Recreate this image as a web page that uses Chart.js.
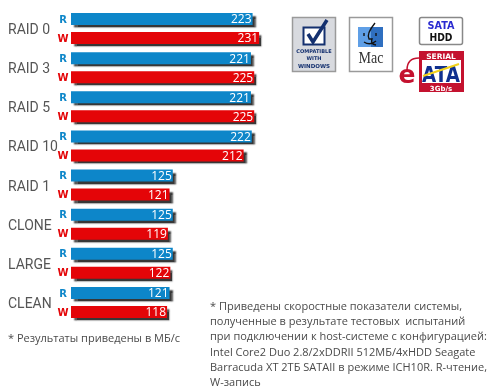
<!DOCTYPE html>
<html>
<head>
<meta charset="utf-8">
<title>RAID speed</title>
<script src="https://cdn.jsdelivr.net/npm/chart.js@4/dist/chart.umd.min.js"></script>
<style>
  html, body { margin: 0; padding: 0; background: #fff; }
  #wrap { position: relative; width: 495px; height: 390px; overflow: hidden; }
  #chart { position: absolute; left: 0; top: 0; }
  #logos { position: absolute; left: 0; top: 0; }
  .note { position: absolute; font-family: "Open Sans", sans-serif; font-size: 11px; color: #4a4a4a; white-space: nowrap; }
  #note-left { left: 8px; top: 330px; line-height: 16px; }
  #note-right { left: 210px; top: 298px; line-height: 15.2px; }
</style>
</head>
<body>
<div id="wrap">
  <canvas id="chart" width="495" height="390"></canvas>

  <svg id="logos" width="495" height="390" xmlns="http://www.w3.org/2000/svg">
    <!-- Windows -->
    <rect x="292.5" y="17.5" width="43" height="54" fill="#d8dadf" stroke="#9a9a9a" stroke-width="1.5"/>
    <rect x="303.5" y="27.5" width="21" height="17" fill="#fff" stroke="#14306f" stroke-width="2"/>
    <path d="M308 34 L313 42 L327 20" fill="none" stroke="#14306f" stroke-width="3.5"/>
    <text x="314" y="53" font-family="DejaVu Sans" font-weight="bold" font-size="5" fill="#14306f" text-anchor="middle">COMPATIBLE</text>
    <text x="314" y="60" font-family="DejaVu Sans" font-weight="bold" font-size="5" fill="#14306f" text-anchor="middle">WITH</text>
    <text x="314" y="68" font-family="DejaVu Sans" font-weight="bold" font-size="5.5" fill="#14306f" text-anchor="middle">WINDOWS</text>
    <!-- Mac -->
    <rect x="349.5" y="17.5" width="43" height="54" fill="#fff" stroke="#9a9a9a" stroke-width="1.5"/>
    <rect x="358" y="27" width="25" height="20" fill="#5f9fe6"/>
    <rect x="371" y="27" width="12" height="20" fill="#2f6fc0"/>
    <path d="M375 23 Q366 34 369 39 L372 39 Q370 44 376 45 M364 33 L364 36 M376 33 L376 36 M364 42 Q370 46 376 41" fill="none" stroke="#111" stroke-width="1.4"/>
    <text x="371" y="63" font-family="Liberation Serif" font-size="17" fill="#333" text-anchor="middle" textLength="25" lengthAdjust="spacingAndGlyphs">Mac</text>
    <!-- SATA HDD -->
    <rect x="419.5" y="17.5" width="43" height="27" rx="2" fill="#fff" stroke="#888" stroke-width="1.5"/>
    <text x="441" y="29" font-family="DejaVu Sans" font-weight="bold" font-size="10" fill="#2a2ad0" text-anchor="middle" textLength="27" lengthAdjust="spacingAndGlyphs">SATA</text>
    <text x="441" y="41" font-family="DejaVu Sans" font-weight="bold" font-size="10" fill="#111" text-anchor="middle" textLength="23" lengthAdjust="spacingAndGlyphs">HDD</text>
    <!-- eSATA -->
    <rect x="419" y="51" width="45" height="41" fill="#c4122f"/>
    <rect x="422" y="60" width="39" height="23" fill="#fff"/>
    <path d="M407 70 Q407 58 419 58" fill="none" stroke="#c4122f" stroke-width="1.5"/>
    <text x="441" y="59" font-family="DejaVu Sans" font-weight="bold" font-size="7.5" fill="#fff" text-anchor="middle">SERIAL</text>
    <text x="441" y="82" font-family="DejaVu Sans" font-weight="bold" font-size="21" fill="#10308f" text-anchor="middle" textLength="38" lengthAdjust="spacingAndGlyphs">ATA</text>
    <path d="M423 76 L459 64" fill="none" stroke="#f2d21a" stroke-width="2"/>
    <text x="441" y="91" font-family="DejaVu Sans" font-weight="bold" font-size="7" fill="#fff" text-anchor="middle">3Gb/s</text>
    <text x="407" y="83" font-family="DejaVu Sans" font-weight="bold" font-size="25" fill="#c4122f" text-anchor="middle">e</text>
  </svg>

  <div class="note" id="note-left">* Результаты приведены в МБ/с</div>
  <div class="note" id="note-right">* Приведены скоростные показатели системы,<br>полученные в результате тестовых&nbsp; испытаний<br>при подключении к host-системе с конфигурацией:<br>Intel Core2 Duo 2.8/2xDDRII 512МБ/4xHDD Seagate<br>Barracuda XT 2ТБ SATAII в режиме ICH10R. R-чтение,<br>W-запись</div>
</div>

<script>
// ------------------------------------------------------------
//  Data
// ------------------------------------------------------------
var MODES = ['RAID 0', 'RAID 3', 'RAID 5', 'RAID 10', 'RAID 1', 'CLONE', 'LARGE', 'CLEAN'];
var READ_SPEED = [223, 221, 221, 222, 125, 125, 125, 121];
var WRITE_SPEED = [231, 225, 225, 212, 121, 119, 122, 118];
var SERIES_NAMES = ['R', 'W'];

var BLUE = '#0d86c9';
var RED = '#e40508';

// ------------------------------------------------------------
//  Drop shadow under the bars
// ------------------------------------------------------------
var barShadow = {
  id: 'barShadow',
  beforeDatasetDraw: function (chart) {
    var ctx = chart.ctx;
    ctx.save();
    ctx.shadowColor = 'rgba(20,20,20,0.85)';
    ctx.shadowOffsetX = 3;
    ctx.shadowOffsetY = 3;
    ctx.shadowBlur = 1.5;
  },
  afterDatasetDraw: function (chart) {
    chart.ctx.restore();
  }
};

// ------------------------------------------------------------
//  Values inside the bars, R / W letters in front of them
// ------------------------------------------------------------
var barLabels = {
  id: 'barLabels',
  afterDatasetsDraw: function (chart) {
    var ctx = chart.ctx;
    ctx.save();
    ctx.textBaseline = 'middle';
    chart.data.datasets.forEach(function (ds, i) {
      chart.getDatasetMeta(i).data.forEach(function (bar, j) {
        ctx.font = '12px "Open Sans", sans-serif';
        ctx.fillStyle = '#fff';
        ctx.textAlign = 'right';
        ctx.fillText(ds.data[j], bar.x - 1, bar.y + 1);

        ctx.font = 'bold 10px "DejaVu Sans", sans-serif';
        ctx.fillStyle = ds.backgroundColor;
        ctx.textAlign = 'center';
        ctx.fillText(SERIES_NAMES[i], bar.base - 8, bar.y + 1);
      });
    });
    ctx.restore();
  }
};

// ------------------------------------------------------------
//  Chart
// ------------------------------------------------------------
new Chart(document.getElementById('chart'), {
  type: 'bar',
  data: {
    labels: MODES,
    datasets: [
      { label: SERIES_NAMES[0], data: READ_SPEED, backgroundColor: BLUE, barPercentage: 0.63, categoryPercentage: 0.97 },
      { label: SERIES_NAMES[1], data: WRITE_SPEED, backgroundColor: RED, barPercentage: 0.63, categoryPercentage: 0.97 }
    ]
  },
  options: {
    indexAxis: 'y',
    responsive: false,
    animation: false,
    layout: { padding: { left: 8, top: 9, right: 196, bottom: 68 } },
    plugins: { legend: { display: false }, tooltip: { enabled: false } },
    scales: {
      x: { display: false, min: 0, max: 280 },
      y: {
        afterFit: function (scale) { scale.width = 63; },
        grid: { display: false },
        border: { display: false },
        ticks: {
          crossAlign: 'far',
          padding: 0,
          labelOffset: 2,
          color: '#555',
          font: { family: 'Roboto', size: 14 }
        }
      }
    }
  },
  plugins: [barShadow, barLabels]
});
</script>
</body>
</html>
